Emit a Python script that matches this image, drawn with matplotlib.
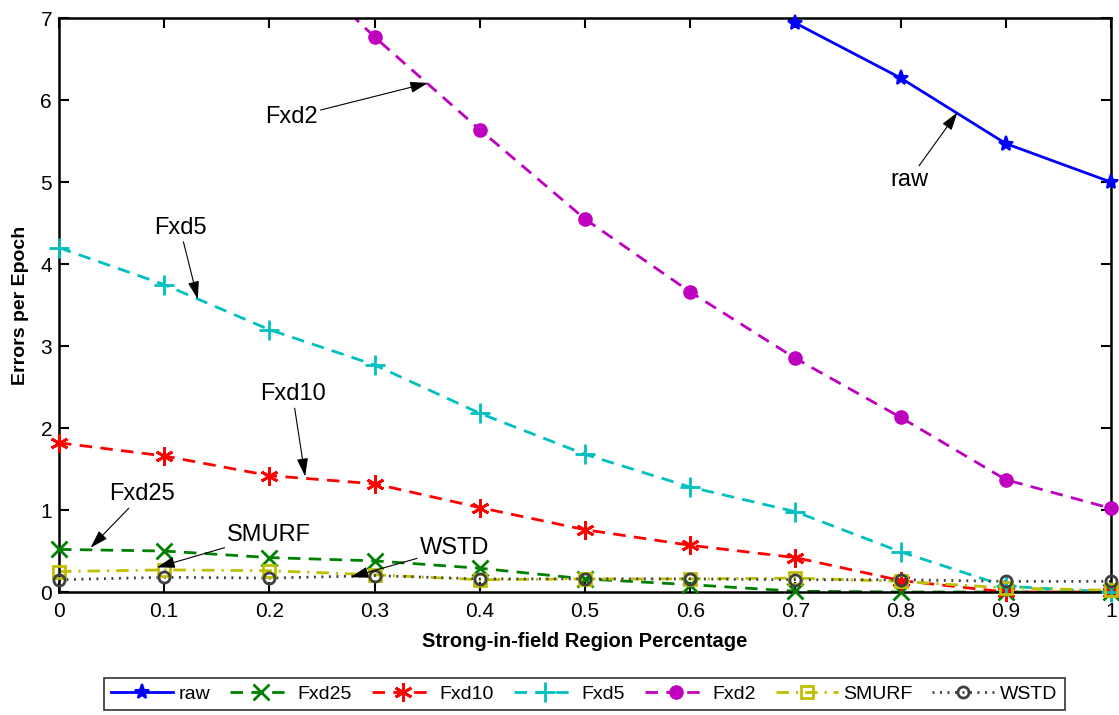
import numpy as np
import matplotlib
matplotlib.use("Agg")
import matplotlib.pyplot as plt

plt.rcParams['font.family'] = ['Liberation Sans', 'DejaVu Sans']

x = [0.0, 0.1, 0.2, 0.3, 0.4, 0.5, 0.6, 0.7, 0.8, 0.9, 1.0]
raw = [12.5, 11.7, 10.9, 10.1, 9.3, 8.5, 7.8, 6.94, 6.27, 5.47, 5.00]
fxd25 = [0.52, 0.50, 0.42, 0.38, 0.29, 0.16, 0.09, 0.01, 0.0, 0.0, 0.0]
fxd10 = [1.82, 1.66, 1.42, 1.32, 1.03, 0.76, 0.57, 0.42, 0.14, 0.0, 0.0]
fxd5 = [4.20, 3.75, 3.20, 2.77, 2.18, 1.68, 1.28, 0.98, 0.49, 0.07, 0.0]
fxd2 = [10.4, 9.2, 8.0, 6.77, 5.64, 4.55, 3.66, 2.85, 2.13, 1.37, 1.02]
smurf = [0.25, 0.27, 0.26, 0.21, 0.15, 0.16, 0.16, 0.17, 0.13, 0.05, 0.02]
wstd = [0.15, 0.18, 0.17, 0.20, 0.16, 0.16, 0.16, 0.15, 0.15, 0.13, 0.13]

xticks = [0, 0.1, 0.2, 0.3, 0.4, 0.5, 0.6, 0.7, 0.8, 0.9, 1]
xticklabels = ['0', '0.1', '0.2', '0.3', '0.4', '0.5', '0.6', '0.7', '0.8', '0.9', '1']
yticks = [0, 1, 2, 3, 4, 5, 6, 7]

series = [
    ('raw', raw, dict(color=(0, 0, 1), ls='-', marker='*', ms=11, mfc=(0, 0, 1), mec=(0, 0, 1), mew=1.5)),
    ('Fxd25', fxd25, dict(color=(0, 0.5, 0), ls=(0, (4.5, 3)), marker='x', ms=11, mfc='none', mec=(0, 0.5, 0), mew=2)),
    ('Fxd10', fxd10, dict(color=(1, 0, 0), ls=(0, (4.5, 3)), marker=(6, 2, 0), ms=13, mfc='none', mec=(1, 0, 0), mew=2)),
    ('Fxd5', fxd5, dict(color=(0, 0.75, 0.75), ls=(0, (4.5, 3)), marker='+', ms=14, mfc='none', mec=(0, 0.75, 0.75), mew=2)),
    ('Fxd2', fxd2, dict(color=(0.75, 0, 0.75), ls=(0, (4.5, 3)), marker='o', ms=9, mfc=(0.75, 0, 0.75), mec=(0.75, 0, 0.75), mew=1.5)),
    ('SMURF', smurf, dict(color=(0.75, 0.75, 0), ls=(0, (4.5, 2.5, 0.8, 2.5)), marker='s', ms=9, mfc='none', mec=(0.75, 0.75, 0), mew=2)),
    ('WSTD', wstd, dict(color=(0.25, 0.25, 0.25), ls=(0, (0.7, 2)), marker='o', ms=8, mfc='none', mec=(0.25, 0.25, 0.25), mew=2)),
]

fig = plt.figure(figsize=(11.19, 7.15), dpi=100)
ax = fig.add_axes([0.0527, 0.172, 0.9402, 0.8026])
ymax = 7
handles = []
for name, vals, st in series:
    xv = np.array(x)
    yv = np.array(vals)
    ax.plot(xv, yv, color=st['color'], ls=st['ls'], lw=2, zorder=2)
    vis = yv <= ymax
    ax.plot(xv[vis], yv[vis], ls='none', marker=st['marker'], ms=st['ms'],
            mfc=st['mfc'], mec=st['mec'], mew=st['mew'], clip_on=False, zorder=3)
    h, = ax.plot([], [], color=st['color'], ls=st['ls'], lw=2, marker=st['marker'],
                 ms=st['ms'], mfc=st['mfc'], mec=st['mec'], mew=st['mew'], label=name)
    handles.append(h)

ax.set_xlim(0, 1)
ax.set_ylim(0, 7)
ax.set_xticks(xticks)
ax.set_xticklabels(xticklabels)
ax.set_yticks(yticks)
ax.tick_params(direction='in', length=7, width=1.5, top=True, right=True,
               labelsize=15, colors='black')
ax.tick_params(axis='x', pad=7)
ax.tick_params(axis='y', pad=5)
for sp in ax.spines.values():
    sp.set_linewidth(1.8)
ax.set_xlabel('Strong-in-field Region Percentage', fontsize=14.5, fontweight='bold', labelpad=8)
ax.set_ylabel('Errors per Epoch', fontsize=14, fontweight='bold', labelpad=8)

arrow = dict(arrowstyle='-|>,head_length=0.65,head_width=0.2', color='black', lw=0.8,
             shrinkA=0, shrinkB=0)
annots = [
    ('Fxd2', (0.351, 6.21), (0.221, 5.79)),
    ('raw', (0.854, 5.85), (0.808, 5.03)),
    ('Fxd5', (0.132, 3.57), (0.115, 4.44)),
    ('Fxd10', (0.234, 1.41), (0.222, 2.41)),
    ('Fxd25', (0.030, 0.54), (0.079, 1.19)),
    ('SMURF', (0.093, 0.30), (0.200, 0.70)),
    ('WSTD', (0.277, 0.18), (0.376, 0.54)),
]
for txt, xy, xyt in annots:
    ax.annotate(txt, xy=xy, xytext=xyt, fontsize=17, ha='center', va='center',
                arrowprops=arrow, zorder=5)

leg = fig.legend(handles=handles, loc='center', bbox_to_anchor=(0.522, 0.0295), ncol=7,
                 fontsize=14, frameon=True, fancybox=False, edgecolor='black',
                 handlelength=3.2, columnspacing=1.0, handletextpad=0.3,
                 borderpad=0.35)
leg.get_frame().set_linewidth(1.2)

fig.savefig('out.png', dpi=100)
